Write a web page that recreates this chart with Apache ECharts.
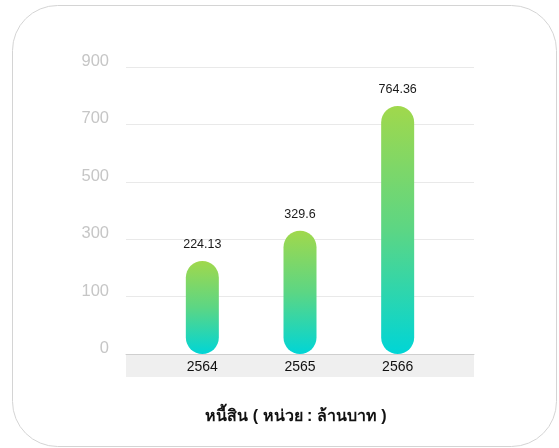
<!DOCTYPE html>
<html>
<head>
<meta charset="utf-8">
<script src="https://cdn.jsdelivr.net/npm/echarts@6/dist/echarts.min.js"></script>
<style>
  html, body { margin: 0; padding: 0; background: #fff; }
  #chart { width: 559px; height: 448px; }
</style>
</head>
<body>
<div id="chart"></div>
<script>
// ข้อมูล
var years = ['2564', '2565', '2566']
var debt = [224.13, 329.6, 764.36]
var yTicks = [0, 100, 300, 500, 700, 900]
var titleText = 'หนี้สิน ( หน่วย : ล้านบาท )'

// แกน y เว้นระยะเท่ากันตาม tick (0,100,300,...) จึงแปลงค่าเป็นตำแหน่งบนแกน
function toAxis(v) {
  for (var i = 0; i < yTicks.length - 1; i++) {
    if (v <= yTicks[i + 1]) {
      return i + (v - yTicks[i]) / (yTicks[i + 1] - yTicks[i])
    }
  }
  return yTicks.length - 1
}

var font = '"Liberation Sans", Arial, sans-serif'
var chart = echarts.init(document.getElementById('chart'))

chart.setOption({
  animation: false,
  grid: [
    { left: 126, right: 85, top: 67, bottom: 94 },
    { left: 153.5, right: 112.5, top: 67, bottom: 94 }
  ],
  graphic: [
    {
      type: 'rect',
      z: -10,
      shape: { x: 12.5, y: 5.5, width: 544, height: 441, r: 45 },
      style: { fill: '#fff', stroke: '#d4d4d4', lineWidth: 1 }
    },
    {
      type: 'rect',
      z: -5,
      shape: { x: 126, y: 354, width: 348, height: 23 },
      style: { fill: '#efefef' }
    },
    {
      type: 'text',
      x: 296,
      y: 417,
      style: {
        text: titleText,
        align: 'center',
        verticalAlign: 'middle',
        fontSize: 16,
        fontWeight: 'bold',
        fontFamily: font,
        fill: '#111'
      }
    }
  ],
  xAxis: [
    {
      gridIndex: 0,
      type: 'value',
      min: 0,
      max: 1,
      axisLabel: { show: false },
      axisTick: { show: false },
      splitLine: { show: false },
      axisLine: { show: true, lineStyle: { color: '#cfcfcf' } }
    },
    {
      gridIndex: 1,
      type: 'category',
      data: years,
      axisLine: { show: false },
      axisTick: { show: false },
      axisLabel: {
        color: '#111',
        fontSize: 14,
        fontFamily: font,
        margin: 6
      }
    }
  ],
  yAxis: [
    {
      gridIndex: 0,
      type: 'value',
      min: 0,
      max: yTicks.length - 1,
      interval: 1,
      axisLine: { show: false },
      axisTick: { show: false },
      axisLabel: {
        color: '#c6c6c6',
        fontSize: 16.5,
        fontFamily: font,
        margin: 17,
        verticalAlign: 'bottom',
        lineHeight: 11,
        formatter: function (val) {
          return yTicks[Math.round(val)]
        }
      },
      splitLine: { lineStyle: { color: '#e9e9e9' } }
    },
    {
      gridIndex: 1,
      type: 'value',
      min: 0,
      max: yTicks.length - 1,
      show: false,
      splitLine: { show: false }
    }
  ],
  series: [
    {
      type: 'bar',
      xAxisIndex: 1,
      yAxisIndex: 1,
      barWidth: 33,
      data: debt.map(function (v) {
        return { value: toAxis(v), raw: v }
      }),
      itemStyle: {
        borderRadius: 16.5,
        color: new echarts.graphic.LinearGradient(0, 0, 0, 1, [
          { offset: 0, color: '#a0d84c' },
          { offset: 0.5, color: '#5cd684' },
          { offset: 1, color: '#00d5d6' }
        ])
      },
      label: {
        show: true,
        position: 'top',
        distance: 10,
        color: '#1a1a1a',
        fontSize: 12.5,
        fontFamily: font,
        formatter: function (p) {
          return p.data.raw
        }
      }
    }
  ]
})
</script>
</body>
</html>
